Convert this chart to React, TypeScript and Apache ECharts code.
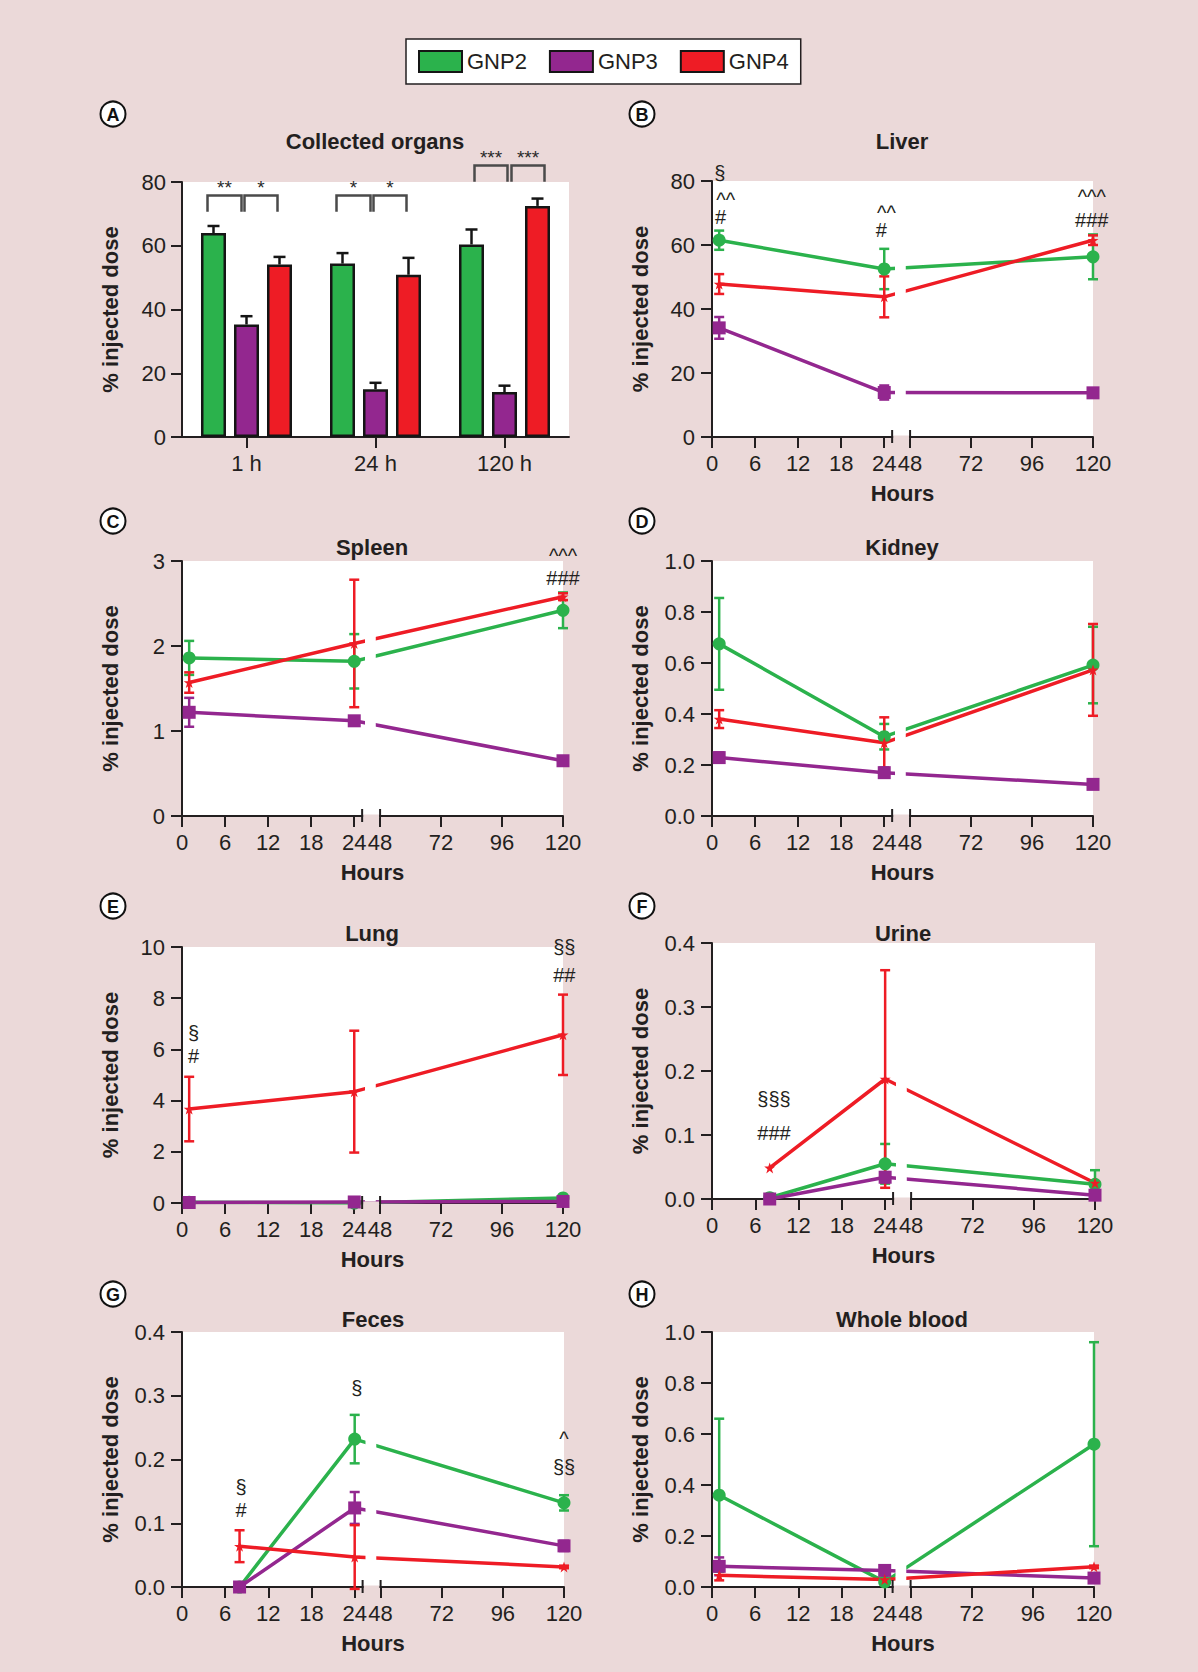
import React, { useEffect, useRef } from 'react';
import * as echarts from 'echarts';

const FONT = '"Liberation Sans", Arial, Helvetica, sans-serif';
const INK = '#231f20';
const BG = '#ebd9d9';
const GROUPS = ['GNP2', 'GNP3', 'GNP4'];
const COLORS = ['#2bb24c', '#93278f', '#ee1c25'];
const SYMBOLS = [
  'circle',
  'rect',
  'path://M12,0 L14.9,8.3 L23.4,8.3 L16.5,13.4 L19.1,21.7 L12,16.6 L4.9,21.7 L7.5,13.4 L0.6,8.3 L9.1,8.3 Z',
];
const SYMBOL_SIZES = [13, 13, 11];

// ---------- Panel A: collected organs (bars)
const ORGAN_TIMES = ['1 h', '24 h', '120 h'];
const organGNP2 = [64.0, 54.4, 60.4];
const organGNP2Sd = [2.2, 3.3, 4.7];
const organGNP3 = [35.3, 15.0, 14.1];
const organGNP3Sd = [2.6, 2.0, 2.0];
const organGNP4 = [54.1, 50.9, 72.5];
const organGNP4Sd = [2.4, 5.3, 2.3];

// significance brackets of panel A
const SIG_LABELS = ['**', '*', '*', '*', '***', '***'];
const SIG_CATS = [0, 0, 1, 1, 2, 2];
const SIG_LEVELS = [75.8, 75.8, 75.8, 75.8, 85.2, 85.2];

// ---------- time points
const HOURS_IV = [1, 24, 120];
const HOURS_EXCRETA = [8, 24, 120];
const HOUR_TICKS = [0, 6, 12, 18, 24, 48, 72, 96, 120];

// ---------- Liver
const liverGNP2 = [61.5, 52.5, 56.3];
const liverGNP2Sd = [3.0, 6.3, 7.0];
const liverGNP3 = [34.1, 13.9, 13.8];
const liverGNP3Sd = [3.4, 2.2, 1.0];
const liverGNP4 = [47.8, 43.8, 61.5];
const liverGNP4Sd = [3.1, 6.4, 1.5];
const liverNotes: [number, number, string][] = [
  [1.1, 82.4, '§'], [1.9, 75.1, '^^'], [1.2, 68.9, '#'],
  [24.3, 70.9, '^^'], [23.6, 64.7, '#'],
  [119.5, 75.9, '^^^'], [119.5, 67.8, '###'],
];

// ---------- Spleen
const spleenGNP2 = [1.86, 1.82, 2.42];
const spleenGNP2Sd = [0.2, 0.32, 0.21];
const spleenGNP3 = [1.22, 1.12, 0.65];
const spleenGNP3Sd = [0.17, 0.03, 0.05];
const spleenGNP4 = [1.57, 2.03, 2.58];
const spleenGNP4Sd = [0.12, 0.75, 0.04];
const spleenNotes: [number, number, string][] = [[120, 3.09, '^^^'], [120, 2.8, '###']];

// ---------- Kidney
const kidneyGNP2 = [0.675, 0.311, 0.592];
const kidneyGNP2Sd = [0.18, 0.05, 0.15];
const kidneyGNP3 = [0.229, 0.17, 0.124];
const kidneyGNP3Sd = [0.02, 0.02, 0.01];
const kidneyGNP4 = [0.38, 0.287, 0.573];
const kidneyGNP4Sd = [0.035, 0.1, 0.18];
const kidneyNotes: [number, number, string][] = [];

// ---------- Lung
const lungGNP2 = [0.03, 0.0, 0.2];
const lungGNP2Sd = [0.02, 0.02, 0.05];
const lungGNP3 = [0.02, 0.04, 0.06];
const lungGNP3Sd = [0.02, 0.02, 0.02];
const lungGNP4 = [3.67, 4.35, 6.57];
const lungGNP4Sd = [1.26, 2.38, 1.57];
const lungNotes: [number, number, string][] = [
  [1.6, 6.66, '§'], [1.6, 5.74, '#'], [120.5, 10.0, '§§'], [120.5, 8.92, '##'],
];

// ---------- Urine
const urineGNP2 = [0.002, 0.055, 0.023];
const urineGNP2Sd = [0.002, 0.031, 0.022];
const urineGNP3 = [0.0, 0.034, 0.006];
const urineGNP3Sd = [0.0, 0.008, 0.004];
const urineGNP4 = [0.0486, 0.1875, 0.025];
const urineGNP4Sd = [0.0, 0.17, 0.0];
const urineNotes: [number, number, string][] = [[8.6, 0.1557, '§§§'], [8.6, 0.1024, '###']];

// ---------- Feces
const fecesGNP2 = [0.0, 0.232, 0.132];
const fecesGNP2Sd = [0.0, 0.038, 0.012];
const fecesGNP3 = [0.0, 0.124, 0.0645];
const fecesGNP3Sd = [0.0, 0.025, 0.008];
const fecesGNP4 = [0.064, 0.047, 0.0315];
const fecesGNP4Sd = [0.025, 0.05, 0.002];
const fecesNotes: [number, number, string][] = [
  [8.2, 0.157, '§'], [8.2, 0.1206, '#'], [24.3, 0.312, '§'], [120, 0.237, '^'], [120, 0.1887, '§§'],
];

// ---------- Whole blood
const bloodGNP2 = [0.36, 0.02, 0.56];
const bloodGNP2Sd = [0.3, 0.01, 0.4];
const bloodGNP3 = [0.081, 0.065, 0.035];
const bloodGNP3Sd = [0.035, 0.01, 0.01];
const bloodGNP4 = [0.046, 0.029, 0.079];
const bloodGNP4Sd = [0.02, 0.005, 0.005];
const bloodNotes: [number, number, string][] = [];

// ---------- layout (positions only)
const PANEL_GRIDS = [
  [182, 182, 387, 255],
  [712, 181, 381, 256],
  [182, 561, 381, 255],
  [712, 561, 381, 255],
  [182, 947, 381, 256],
  [712, 943, 383, 256],
  [182, 1332, 382, 255],
  [712, 1332, 382, 255],
];
const TITLE_POS = [[375, 141], [902, 141], [372, 547], [902, 547], [372, 933], [903, 933], [373, 1319], [902, 1319]];
const LETTER_POS = [[113, 114], [642, 114], [113, 521], [642, 521], [113, 906], [642, 906], [113, 1294], [642, 1294]];
const LETTERS = ['A', 'B', 'C', 'D', 'E', 'F', 'G', 'H'];
const TITLES = ['Collected organs', 'Liver', 'Spleen', 'Kidney', 'Lung', 'Urine', 'Feces', 'Whole blood'];
const SIG_SPANS = [[-39, -5], [-2, 31], [-39, -5], [-2, 31], [-30, 3], [7, 40]];
const BAR_W = 25;
const BAR_GAP = 0.32;
const CARET_SHIFT = 3;

// broken time axis: 0-24 h at full scale, 48-120 h compressed
const LATE_START = 27.6;
const LATE_RATIO = 0.354;
const BREAK_END = 25.1;
const GAP_FROM = 25.5;
const GAP_TO = 27.0;
const toAxis = (h: number) => (h <= 36 ? h : LATE_START + (h - 48) * LATE_RATIO);
const fromAxis = (u: number) => (u <= 25 ? Math.round(u) : Math.round(48 + (u - LATE_START) / LATE_RATIO));

const LINE_PANELS = [
  { hours: HOURS_IV, max: 80, interval: 20, dec: 0, vals: [liverGNP2, liverGNP3, liverGNP4], sds: [liverGNP2Sd, liverGNP3Sd, liverGNP4Sd], notes: liverNotes },
  { hours: HOURS_IV, max: 3, interval: 1, dec: 0, vals: [spleenGNP2, spleenGNP3, spleenGNP4], sds: [spleenGNP2Sd, spleenGNP3Sd, spleenGNP4Sd], notes: spleenNotes },
  { hours: HOURS_IV, max: 1, interval: 0.2, dec: 1, vals: [kidneyGNP2, kidneyGNP3, kidneyGNP4], sds: [kidneyGNP2Sd, kidneyGNP3Sd, kidneyGNP4Sd], notes: kidneyNotes },
  { hours: HOURS_IV, max: 10, interval: 2, dec: 0, vals: [lungGNP2, lungGNP3, lungGNP4], sds: [lungGNP2Sd, lungGNP3Sd, lungGNP4Sd], notes: lungNotes },
  { hours: HOURS_EXCRETA, max: 0.4, interval: 0.1, dec: 1, vals: [urineGNP2, urineGNP3, urineGNP4], sds: [urineGNP2Sd, urineGNP3Sd, urineGNP4Sd], notes: urineNotes },
  { hours: HOURS_EXCRETA, max: 0.4, interval: 0.1, dec: 1, vals: [fecesGNP2, fecesGNP3, fecesGNP4], sds: [fecesGNP2Sd, fecesGNP3Sd, fecesGNP4Sd], notes: fecesNotes },
  { hours: HOURS_IV, max: 1, interval: 0.2, dec: 1, vals: [bloodGNP2, bloodGNP3, bloodGNP4], sds: [bloodGNP2Sd, bloodGNP3Sd, bloodGNP4Sd], notes: bloodNotes },
];

const axisLineStyle = { color: INK, width: 2 };
const LABEL_SIZE = 22;

function textStyle(text: string, size: number, weight: string, color = INK, lineHeight?: number) {
  const s: any = {
    text,
    fill: color,
    fontSize: size,
    fontWeight: weight,
    fontFamily: FONT,
    align: 'center',
    verticalAlign: 'middle',
    textAlign: 'center',
    textVerticalAlign: 'middle',
  };
  if (lineHeight) s.lineHeight = lineHeight;
  return s;
}

function buildOption() {
  const grid: any[] = [];
  const xAxis: any[] = [];
  const yAxis: any[] = [];
  const series: any[] = [];
  const graphic: any[] = [];

  PANEL_GRIDS.forEach((g) => {
    grid.push({ left: g[0], top: g[1], width: g[2], height: g[3], show: true, backgroundColor: '#ffffff', borderWidth: 0 });
  });

  const yName = {
    name: '% injected dose',
    nameLocation: 'middle',
    nameGap: 61,
    nameTextStyle: { fontSize: LABEL_SIZE, fontWeight: 'bold', color: INK, fontFamily: FONT },
  };

  // ----- Panel A axes
  xAxis.push({
    type: 'category', gridIndex: 0, data: ORGAN_TIMES,
    axisLine: { show: true, onZero: false, lineStyle: axisLineStyle },
    axisTick: { show: true, alignWithLabel: true, length: 11, lineStyle: axisLineStyle },
    axisLabel: { fontSize: LABEL_SIZE, color: INK, margin: 15, fontFamily: FONT },
  });
  yAxis.push({
    type: 'value', gridIndex: 0, min: 0, max: 80, interval: 20,
    axisLine: { show: true, lineStyle: axisLineStyle },
    axisTick: { show: true, length: 11, lineStyle: axisLineStyle },
    axisLabel: { fontSize: LABEL_SIZE, color: INK, margin: 16, fontFamily: FONT },
    splitLine: { show: false },
    ...yName,
  });

  const organVals = [organGNP2, organGNP3, organGNP4];
  const organSds = [organGNP2Sd, organGNP3Sd, organGNP4Sd];
  organVals.forEach((vals, g) => {
    series.push({
      type: 'bar', name: GROUPS[g], xAxisIndex: 0, yAxisIndex: 0, data: vals,
      barWidth: BAR_W, barGap: BAR_GAP * 100 + '%',
      itemStyle: { color: COLORS[g], borderColor: '#151515', borderWidth: 2.5 },
      silent: true,
    });
  });
  organVals.forEach((vals, g) => {
    const off = (g - 1) * BAR_W * (1 + BAR_GAP);
    series.push({
      type: 'custom', xAxisIndex: 0, yAxisIndex: 0, z: 3, silent: true,
      encode: { x: 0, y: 1 },
      data: vals.map((v, i) => [i, v, organSds[g][i]]),
      renderItem: (params: any, api: any) => {
        const c = api.coord([api.value(0), api.value(1)]);
        const t = api.coord([api.value(0), api.value(1) + api.value(2)]);
        const x = c[0] + off;
        const st = { stroke: '#151515', lineWidth: 2.5 };
        return {
          type: 'group',
          children: [
            { type: 'line', shape: { x1: x, y1: c[1], x2: x, y2: t[1] }, style: st },
            { type: 'line', shape: { x1: x - 6, y1: t[1], x2: x + 6, y2: t[1] }, style: st },
          ],
        };
      },
    });
  });
  series.push({
    type: 'custom', xAxisIndex: 0, yAxisIndex: 0, z: 4, silent: true, clip: false,
    encode: { x: 0, y: 1 },
    data: SIG_CATS.map((c, i) => [c, SIG_LEVELS[i]]),
    renderItem: (params: any, api: any) => {
      const i = params.dataIndex;
      const top = api.coord([api.value(0), api.value(1)]);
      const legEnd = api.coord([api.value(0), api.value(1) - 5.1])[1];
      const x1 = top[0] + SIG_SPANS[i][0];
      const x2 = top[0] + SIG_SPANS[i][1];
      return {
        type: 'group',
        children: [
          {
            type: 'polyline',
            shape: { points: [[x1, legEnd], [x1, top[1]], [x2, top[1]], [x2, legEnd]] },
            style: { stroke: '#4a4a4a', lineWidth: 2.5, fill: 'none' },
          },
          { type: 'text', x: (x1 + x2) / 2, y: top[1] - 8, style: textStyle(SIG_LABELS[i], 19, 'normal', '#2a2a2a', 12) },
        ],
      };
    },
  });

  // ----- line panels
  const tickVals = HOUR_TICKS.map(toAxis);
  LINE_PANELS.forEach((p, k) => {
    const gi = k + 1;
    xAxis.push({
      type: 'value', gridIndex: gi, min: 0, max: toAxis(120),
      axisLine: { show: true, onZero: false, lineStyle: axisLineStyle },
      axisTick: { show: true, customValues: tickVals, length: 11, lineStyle: axisLineStyle },
      axisLabel: {
        customValues: tickVals, fontSize: LABEL_SIZE, color: INK, margin: 15, fontFamily: FONT,
        formatter: (v: number) => String(fromAxis(v)),
      },
      splitLine: { show: false },
      name: 'Hours', nameLocation: 'middle', nameGap: 45,
      nameTextStyle: { fontSize: LABEL_SIZE, fontWeight: 'bold', color: INK, fontFamily: FONT },
    });
    yAxis.push({
      type: 'value', gridIndex: gi, min: 0, max: p.max, interval: p.interval,
      axisLine: { show: true, lineStyle: axisLineStyle },
      axisTick: { show: true, length: 11, lineStyle: axisLineStyle },
      axisLabel: {
        fontSize: LABEL_SIZE, color: INK, margin: 17, fontFamily: FONT,
        formatter: (v: number) => v.toFixed(p.dec),
      },
      splitLine: { show: false },
      ...yName,
    });

    p.vals.forEach((vals, g) => {
      const color = COLORS[g];
      series.push({
        type: 'custom', xAxisIndex: gi, yAxisIndex: gi, z: 2, silent: true,
        encode: { x: 0, y: 1 },
        data: vals.map((v, i) => [toAxis(p.hours[i]), v, p.sds[g][i]]),
        renderItem: (params: any, api: any) => {
          const x = api.value(0), m = api.value(1), sd = api.value(2);
          if (!(sd > 0)) return { type: 'group', children: [] };
          const top = api.coord([x, m + sd]);
          const bot = api.coord([x, m - sd]);
          const w = 5;
          const st = { stroke: color, lineWidth: 2.5 };
          return {
            type: 'group',
            children: [
              { type: 'line', shape: { x1: top[0], y1: top[1], x2: bot[0], y2: bot[1] }, style: st },
              { type: 'line', shape: { x1: top[0] - w, y1: top[1], x2: top[0] + w, y2: top[1] }, style: st },
              { type: 'line', shape: { x1: bot[0] - w, y1: bot[1], x2: bot[0] + w, y2: bot[1] }, style: st },
            ],
          };
        },
      });
    });
    p.vals.forEach((vals, g) => {
      series.push({
        type: 'line', name: GROUPS[g], xAxisIndex: gi, yAxisIndex: gi, z: 3,
        data: vals.map((v, i) => [toAxis(p.hours[i]), v]),
        symbol: SYMBOLS[g], symbolSize: SYMBOL_SIZES[g],
        lineStyle: { color: COLORS[g], width: 3.5 },
        itemStyle: { color: COLORS[g] },
        silent: true,
      });
    });
    // axis break: gap in lines and axis line, break marks
    series.push({
      type: 'custom', xAxisIndex: gi, yAxisIndex: gi, z: 10, silent: true, clip: false,
      encode: { x: 0, y: 1 },
      data: [[GAP_FROM, 0]],
      renderItem: (params: any, api: any) => {
        const topY = api.coord([0, p.max])[1];
        const baseY = api.coord([0, 0])[1];
        const gx1 = api.coord([GAP_FROM, 0])[0];
        const gx2 = api.coord([GAP_TO, 0])[0];
        const bx1 = api.coord([BREAK_END, 0])[0];
        const bx2 = api.coord([LATE_START, 0])[0];
        const st = { stroke: INK, lineWidth: 2 };
        return {
          type: 'group',
          children: [
            { type: 'rect', shape: { x: gx1, y: topY, width: gx2 - gx1, height: baseY - topY - 1.5 }, style: { fill: '#ffffff' } },
            { type: 'rect', shape: { x: bx1 + 1, y: baseY - 1.5, width: bx2 - bx1 - 2, height: 3.5 }, style: { fill: BG } },
            { type: 'line', shape: { x1: bx1, y1: baseY - 7, x2: bx1, y2: baseY + 6 }, style: st },
            { type: 'line', shape: { x1: bx2, y1: baseY - 7, x2: bx2, y2: baseY + 1 }, style: st },
          ],
        };
      },
    });
    if (p.notes.length) {
      series.push({
        type: 'custom', xAxisIndex: gi, yAxisIndex: gi, z: 11, silent: true, clip: false,
        encode: { x: 0, y: 1 },
        data: p.notes.map((n) => [toAxis(n[0]), n[1]]),
        renderItem: (params: any, api: any) => {
          const pt = api.coord([api.value(0), api.value(1)]);
          const txt = p.notes[params.dataIndex][2];
          const dy = txt.indexOf('^') >= 0 ? CARET_SHIFT : 0;
          return { type: 'text', x: pt[0], y: pt[1] + dy, style: textStyle(txt, 20, 'normal', INK, 14) };
        },
      });
    }
  });

  // ----- titles and panel letters
  TITLES.forEach((t, i) => {
    graphic.push({ type: 'text', x: TITLE_POS[i][0], y: TITLE_POS[i][1], style: textStyle(t, LABEL_SIZE, 'bold') });
  });
  LETTERS.forEach((l, i) => {
    graphic.push({
      type: 'circle', shape: { cx: LETTER_POS[i][0], cy: LETTER_POS[i][1], r: 12.5 },
      style: { fill: '#ffffff', stroke: '#111', lineWidth: 2 },
    });
    graphic.push({ type: 'text', x: LETTER_POS[i][0], y: LETTER_POS[i][1] + 1, style: textStyle(l, 18, 'bold', '#111') });
  });

  return {
    animation: false,
    backgroundColor: BG,
    textStyle: { fontFamily: FONT },
    legend: {
      data: GROUPS, left: 406, top: 39, padding: [11, 12, 11, 12],
      itemWidth: 43, itemHeight: 21, itemGap: 22, icon: 'rect',
      backgroundColor: '#ffffff', borderColor: INK, borderWidth: 1.5,
      textStyle: { fontSize: 22, color: INK, fontFamily: FONT },
      itemStyle: { borderColor: '#151515', borderWidth: 2 },
      selectedMode: false,
    },
    grid, xAxis, yAxis, series, graphic,
  };
}

export default function App() {
  const ref = useRef<HTMLDivElement>(null);
  useEffect(() => {
    if (!ref.current) return;
    const chart = echarts.init(ref.current, null, { renderer: 'svg' });
    chart.setOption(buildOption() as any);
    return () => chart.dispose();
  }, []);
  return <div ref={ref} style={{ position: 'absolute', left: 0, top: 0, width: 1198, height: 1672 }} />;
}
